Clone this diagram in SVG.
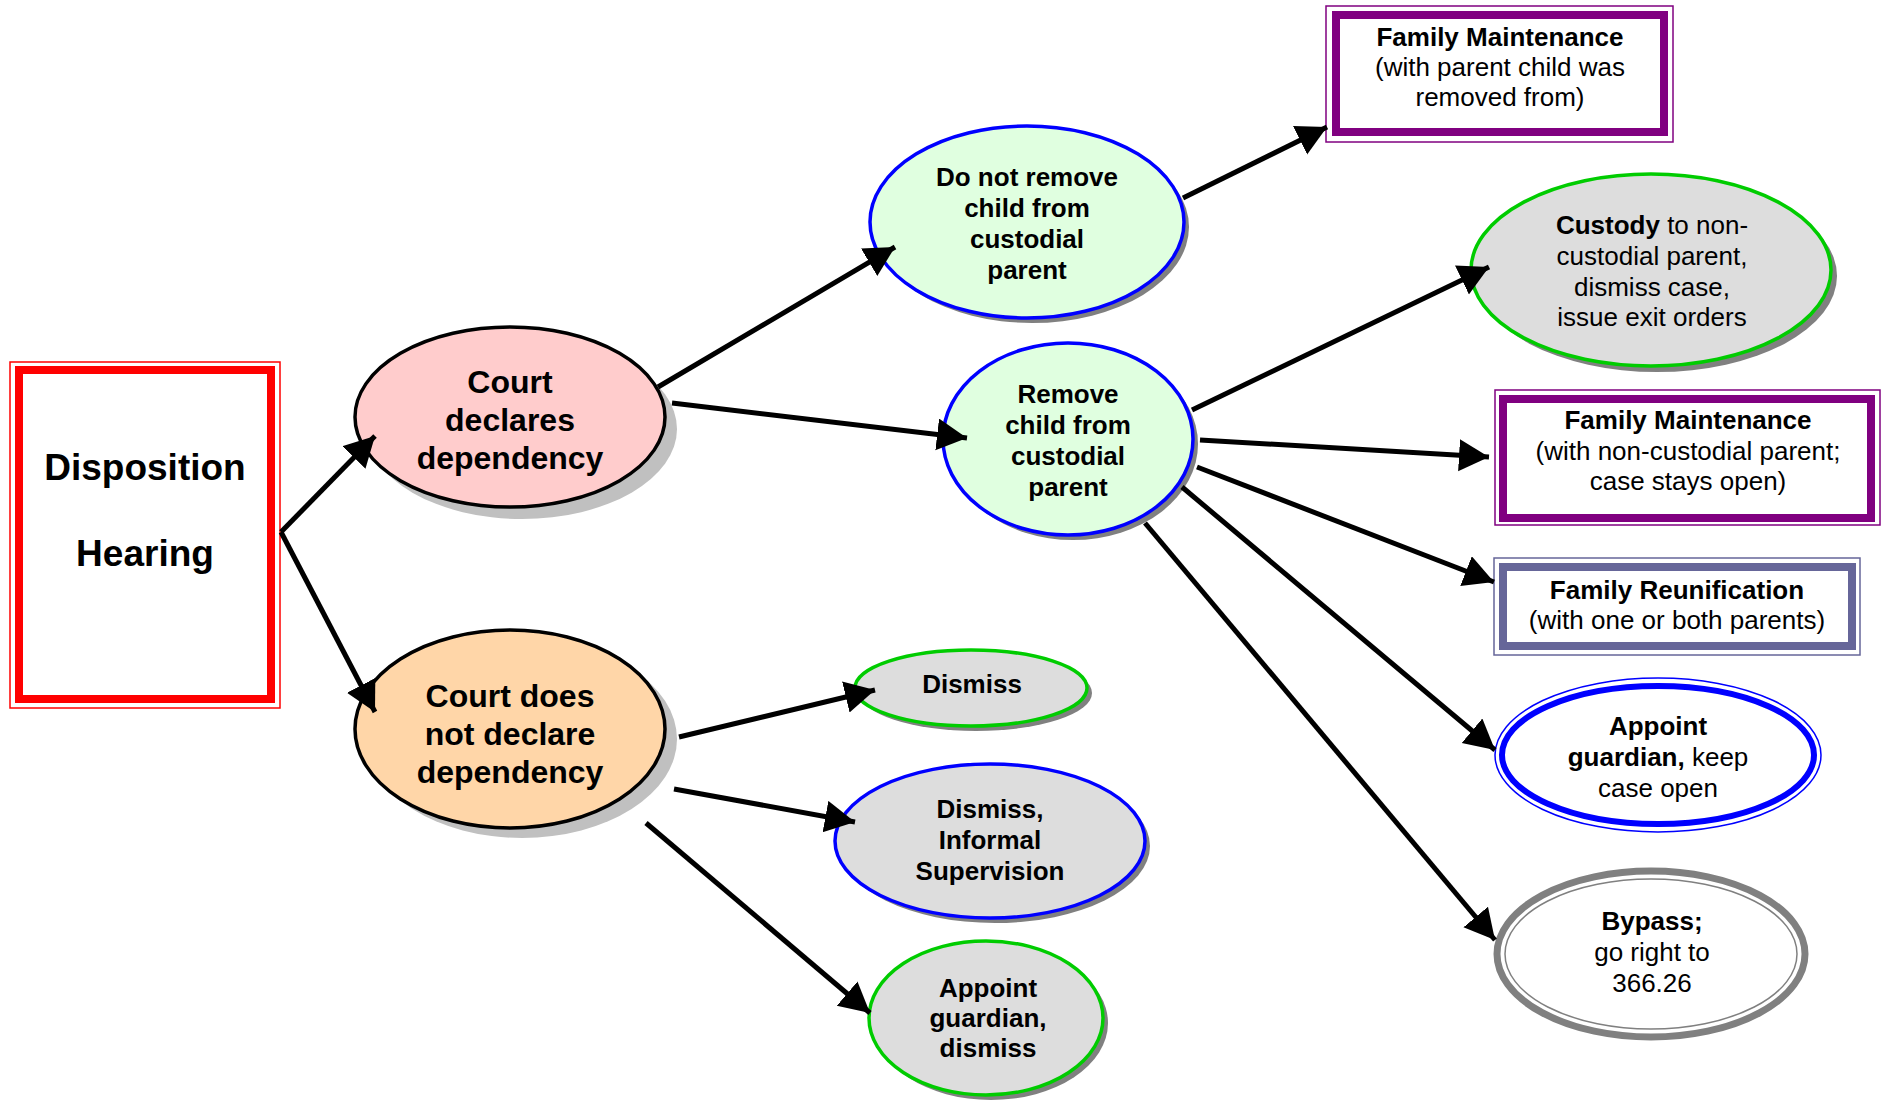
<svg xmlns="http://www.w3.org/2000/svg" width="1884" height="1100" viewBox="0 0 1884 1100">
<style>
text{font-family:"Liberation Sans",Arial,sans-serif;fill:#000;text-anchor:middle}
.b{font-weight:bold}
.t26{font-size:26px}
.t32{font-size:32px;font-weight:bold}
.t37{font-size:37px;font-weight:bold}
.conn line{stroke:#000;stroke-width:5;marker-end:url(#ah)}
.shL{fill:#c0c0c0}
.shD{fill:#808080}
.gn{fill:#e0ffe0;stroke:#0000ff;stroke-width:3.5}
.gy{fill:#dddddd;stroke-width:3.5}
</style>
<defs>
<marker id="ah" markerUnits="userSpaceOnUse" markerWidth="34" markerHeight="34" refX="30" refY="16" orient="auto">
<path d="M0,0 L30,16 L0,32 z" fill="#000"/>
</marker>
</defs>
<rect width="1884" height="1100" fill="#fff"/>

<g id="disposition">
<rect x="10" y="362" width="270" height="346" fill="#fff" stroke="#ff0000" stroke-width="1.5"/>
<rect x="19" y="370" width="252" height="329" fill="none" stroke="#ff0000" stroke-width="8"/>
<text class="t37" x="145" y="480">Disposition</text>
<text class="t37" x="145" y="566">Hearing</text>
</g>

<g id="court-declares">
<ellipse class="shL" cx="522" cy="429" rx="155" ry="90"/>
<ellipse cx="510" cy="417" rx="155" ry="90" fill="#ffcccc" stroke="#000" stroke-width="3.5"/>
<text class="t32" x="510"><tspan x="510" y="393">Court</tspan><tspan x="510" y="431">declares</tspan><tspan x="510" y="469">dependency</tspan></text>
</g>

<g id="court-not-declare">
<ellipse class="shL" cx="522" cy="739" rx="155" ry="99"/>
<ellipse cx="510" cy="729" rx="155" ry="99" fill="#ffd6a8" stroke="#000" stroke-width="3.5"/>
<text class="t32" x="510"><tspan x="510" y="707">Court does</tspan><tspan x="510" y="745">not declare</tspan><tspan x="510" y="783">dependency</tspan></text>
</g>

<g id="do-not-remove">
<ellipse class="shD" cx="1032" cy="227" rx="157" ry="96"/>
<ellipse class="gn" cx="1027" cy="222" rx="157" ry="96"/>
<text class="t26 b"><tspan x="1027" y="186">Do not remove</tspan><tspan x="1027" y="217">child from</tspan><tspan x="1027" y="248">custodial</tspan><tspan x="1027" y="279">parent</tspan></text>
</g>

<g id="remove">
<ellipse class="shD" cx="1073" cy="444" rx="125" ry="96"/>
<ellipse class="gn" cx="1068" cy="439" rx="125" ry="96"/>
<text class="t26 b"><tspan x="1068" y="403">Remove</tspan><tspan x="1068" y="434">child from</tspan><tspan x="1068" y="465">custodial</tspan><tspan x="1068" y="496">parent</tspan></text>
</g>

<g id="fm-removed">
<rect x="1326" y="6" width="347" height="136" fill="#fff" stroke="#800080" stroke-width="1.5"/>
<rect x="1336" y="15" width="328" height="117" fill="none" stroke="#800080" stroke-width="8"/>
<text class="t26"><tspan class="b" x="1500" y="46">Family Maintenance</tspan><tspan x="1500" y="76">(with parent child was</tspan><tspan x="1500" y="106">removed from)</tspan></text>
</g>

<g id="custody">
<ellipse class="shD" cx="1657" cy="276" rx="180" ry="96"/>
<ellipse class="gy" cx="1651" cy="270" rx="180" ry="96" stroke="#00cc00"/>
<text class="t26"><tspan x="1652" y="234"><tspan class="b">Custody</tspan> to non-</tspan><tspan x="1652" y="265">custodial parent,</tspan><tspan x="1652" y="296">dismiss case,</tspan><tspan x="1652" y="326">issue exit orders</tspan></text>
</g>

<g id="fm-noncustodial">
<rect x="1495" y="390" width="385" height="135" fill="#fff" stroke="#800080" stroke-width="1.5"/>
<rect x="1503" y="399" width="368" height="119" fill="none" stroke="#800080" stroke-width="8"/>
<text class="t26"><tspan class="b" x="1688" y="429">Family Maintenance</tspan><tspan x="1688" y="460">(with non-custodial parent;</tspan><tspan x="1688" y="490">case stays open)</tspan></text>
</g>

<g id="reunification">
<rect x="1494" y="558" width="366" height="97" fill="#fff" stroke="#666699" stroke-width="1.5"/>
<rect x="1503" y="567" width="349" height="79" fill="none" stroke="#666699" stroke-width="8"/>
<text class="t26"><tspan class="b" x="1677" y="599">Family Reunification</tspan><tspan x="1677" y="629">(with one or both parents)</tspan></text>
</g>

<g id="appoint-keep">
<ellipse cx="1658" cy="755" rx="163" ry="77" fill="#fff" stroke="#0000ff" stroke-width="1.5"/>
<ellipse cx="1658" cy="755" rx="156" ry="69" fill="none" stroke="#0000ff" stroke-width="6"/>
<text class="t26"><tspan class="b" x="1658" y="735">Appoint</tspan><tspan x="1658" y="766"><tspan class="b">guardian,</tspan> keep</tspan><tspan x="1658" y="797">case open</tspan></text>
</g>

<g id="bypass">
<ellipse cx="1651" cy="954" rx="154" ry="83" fill="#fff" stroke="#808080" stroke-width="7"/>
<ellipse cx="1651" cy="954" rx="146" ry="75" fill="none" stroke="#808080" stroke-width="1.5"/>
<text class="t26"><tspan class="b" x="1652" y="930">Bypass;</tspan><tspan x="1652" y="961">go right to</tspan><tspan x="1652" y="992">366.26</tspan></text>
</g>

<g id="dismiss">
<ellipse class="shD" cx="976" cy="693" rx="116" ry="38"/>
<ellipse class="gy" cx="971" cy="688" rx="116" ry="38" stroke="#00cc00"/>
<text class="t26 b" x="972" y="693">Dismiss</text>
</g>

<g id="dismiss-informal">
<ellipse class="shD" cx="995" cy="846" rx="155" ry="77"/>
<ellipse class="gy" cx="990" cy="841" rx="155" ry="77" stroke="#0000ff"/>
<text class="t26 b"><tspan x="990" y="818">Dismiss,</tspan><tspan x="990" y="849">Informal</tspan><tspan x="990" y="880">Supervision</tspan></text>
</g>

<g id="appoint-dismiss">
<ellipse class="shD" cx="991" cy="1023" rx="117" ry="77"/>
<ellipse class="gy" cx="986" cy="1018" rx="117" ry="77" stroke="#00cc00"/>
<text class="t26 b"><tspan x="988" y="997">Appoint</tspan><tspan x="988" y="1027">guardian,</tspan><tspan x="988" y="1057">dismiss</tspan></text>
</g>

<g id="connectors" class="conn">
<line x1="281" y1="532" x2="375" y2="436"/>
<line x1="281" y1="532" x2="375" y2="712"/>
<line x1="658" y1="387" x2="895" y2="247"/>
<line x1="672" y1="403" x2="967" y2="438"/>
<line x1="1183" y1="198" x2="1327" y2="127"/>
<line x1="1192" y1="410" x2="1489" y2="267"/>
<line x1="1200" y1="440" x2="1489" y2="457"/>
<line x1="1197" y1="467" x2="1494" y2="582"/>
<line x1="1182" y1="487" x2="1495" y2="750"/>
<line x1="1145" y1="523" x2="1495" y2="940"/>
<line x1="679" y1="737" x2="875" y2="690"/>
<line x1="674" y1="789" x2="855" y2="822"/>
<line x1="646" y1="823" x2="870" y2="1013"/>
</g>
</svg>
